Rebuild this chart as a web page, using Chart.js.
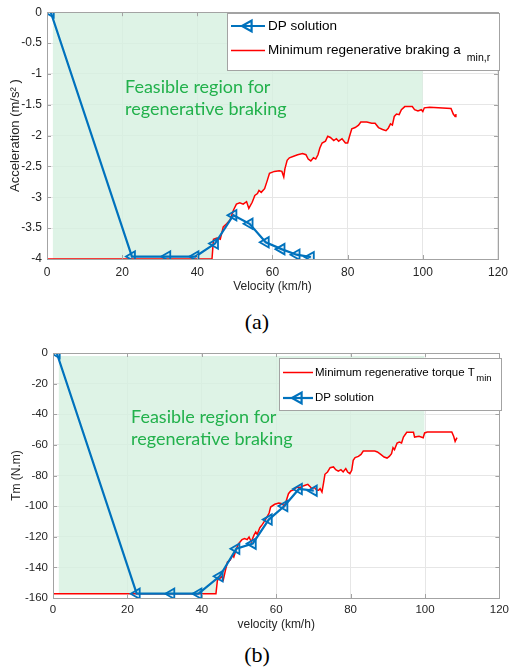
<!DOCTYPE html>
<html>
<head>
<meta charset="utf-8">
<script src="https://cdn.jsdelivr.net/npm/chart.js@4.4.0/dist/chart.umd.min.js"></script>
<style>
  body { margin: 0; background: #fff; width: 514px; height: 670px; position: relative; overflow: hidden; }
  .wrap { position: absolute; left: 0; width: 514px; height: 300px; }
  .cap { position: absolute; left: 0; width: 514px; text-align: center; font: 22px 'Liberation Serif', 'Times New Roman', serif; line-height: 26px; color: #000; }
</style>
</head>
<body>
<div class="wrap" style="top:0"><canvas id="chartA" width="514" height="300"></canvas></div>
<div class="cap" style="top:309px">(a)</div>
<div class="wrap" style="top:335px"><canvas id="chartB" width="514" height="300"></canvas></div>
<div class="cap" style="top:642px">(b)</div>
<script>
// ---- data (a): acceleration ----
const dpVelA = [1, 22.6, 32.0, 39.5, 44.7, 49.6, 53.9, 58.2, 62.4, 66.4, 70.2];
const dpAccA = [0, -3.96, -3.96, -3.96, -3.75, -3.29, -3.43, -3.73, -3.84, -3.93, -3.97];

const minVelA = [0, 43.9, 44.3, 45.2, 46.1, 46.9, 47.8, 48.7, 49.6, 50.4, 51.3, 52.2, 53.1, 53.7, 54.6, 55.3, 56.0, 56.4, 57.0, 57.9,
  58.6, 59.2, 60.5, 61.8, 62.5, 63.0, 63.3, 63.9, 64.5, 65.8, 66.7, 68.0, 68.9, 69.5, 70.2, 70.9, 71.5, 72.1, 72.6, 73.2,
  74.1, 74.7, 75.4, 76.3, 77.0, 77.6, 78.5, 79.4, 80.0, 80.5, 81.1, 82.0, 82.9, 83.5, 85.1, 86.4, 87.3, 88.2, 89.3, 90.2,
  90.8, 91.4, 91.9, 92.4, 93.0, 93.7, 94.3, 95.2, 97.2, 97.8, 98.7, 99.6, 100.0, 100.4, 101.8, 107.5, 108.1, 108.6, 108.8];
const minAccA = [-4, -4, -3.68, -3.66, -3.68, -3.48, -3.43, -3.37, -3.21, -3.11, -3.09, -3.11, -3.07, -3.18, -3.08, -2.97, -2.94, -2.89, -2.92, -2.86,
  -2.73, -2.61, -2.58, -2.57, -2.58, -2.67, -2.54, -2.40, -2.36, -2.33, -2.31, -2.29, -2.31, -2.38, -2.41, -2.36, -2.38, -2.31, -2.20, -2.12,
  -2.09, -2.01, -2.03, -2.08, -2.05, -2.09, -2.05, -2.12, -2.12, -2.01, -1.89, -1.87, -1.83, -1.78, -1.78, -1.80, -1.80, -1.87, -1.90, -1.92,
  -1.88, -1.81, -1.83, -1.69, -1.65, -1.66, -1.58, -1.53, -1.53, -1.58, -1.60, -1.58, -1.61, -1.55, -1.54, -1.56, -1.65, -1.69, -1.65];

// ---- data (b): torque ----
const dpVelB = [1, 22.5, 31.8, 39.1, 44.8, 49.3, 53.7, 58.0, 62.2, 66.1, 70.1];
const dpTqB = [0, -157.2, -157.2, -157.2, -145.8, -127.8, -124.5, -108.8, -99.9, -88.8, -89.9];

const minVelB = [0, 43.8, 44.2, 44.8, 45.4, 45.8, 46.3, 46.9, 47.6, 48.3, 48.6, 49.3, 49.9, 50.8, 51.5, 52.2, 52.7, 53.3, 54.0, 54.5,
  54.9, 55.6, 56.3, 56.9, 57.5, 58.1, 58.5, 59.6, 60.7, 61.6, 62.2, 62.6, 63.3, 63.9, 64.8, 65.6, 66.3, 67.0, 67.8, 68.5,
  69.2, 69.6, 70.3, 70.9, 71.4, 71.8, 72.3, 72.7, 73.1, 73.8, 74.5, 75.4, 76.0, 76.7, 77.4, 78.0, 78.7, 79.2, 79.8, 80.3,
  80.7, 81.2, 82.1, 82.8, 83.4, 84.7, 86.5, 87.2, 88.1, 89.0, 89.8, 90.4, 91.0, 91.4, 91.8, 92.5, 93.1, 93.7, 94.2, 95.1,
  96.9, 97.2, 98.4, 99.5, 99.9, 100.6, 107.2, 107.7, 108.1, 108.6];
const minTqB = [-157.2, -157.2, -148.4, -147.4, -145.8, -148.0, -142.4, -136.5, -135.4, -132.1, -133.2, -127.8, -124.5, -121.9, -121.2, -121.9, -120.2, -123.4, -119.1, -116.9,
  -118.4, -114.1, -111.9, -109.7, -107.1, -104.5, -100.6, -98.8, -98.0, -98.4, -100.1, -97.3, -91.9, -90.1, -89.2, -87.5, -87.9, -87.1, -86.4, -85.8,
  -87.5, -88.6, -87.9, -89.7, -89.7, -88.6, -90.8, -85.3, -79.2, -77.7, -74.9, -74.4, -76.2, -77.1, -76.2, -77.7, -75.5, -77.7, -78.8, -76.6,
  -70.1, -68.3, -67.5, -66.2, -64.0, -64.0, -64.0, -64.6, -66.2, -67.9, -68.6, -67.5, -65.7, -61.8, -63.1, -58.8, -58.1, -58.8, -54.9, -51.8,
  -51.8, -54.9, -54.4, -55.3, -52.2, -51.6, -51.6, -54.4, -57.7, -55.3];

// feasible region edges
const regionStartVel = 1.5;
const regionEndVel = 100;

// tick labels
const velTicks = [0, 20, 40, 60, 80, 100, 120];
const accTicks = [0, -0.5, -1, -1.5, -2, -2.5, -3, -3.5, -4];
const tqTicks = [0, -20, -40, -60, -80, -100, -120, -140, -160];

const blue = '#0072bd';
const red = '#ff0000';
const frameColor = '#a3a3a3';

function zip(xs, ys) {
  return xs.map((x, i) => ({ x: x, y: ys[i] }));
}

function regionPoints(xs, ys) {
  const pts = [{ x: regionStartVel, y: ys[0] }];
  xs.forEach((x, i) => {
    if (x >= regionStartVel && x <= regionEndVel) pts.push({ x: x, y: ys[i] });
  });
  return pts;
}

function leftTriangle(ctx, x, y, r) {
  ctx.beginPath();
  ctx.moveTo(x - r, y);
  ctx.lineTo(x + r * 0.6, y - r * 0.9);
  ctx.lineTo(x + r * 0.6, y + r * 0.9);
  ctx.closePath();
  ctx.stroke();
}

// box around plot with inward ticks (matlab style)
const framePlugin = {
  id: 'frame',
  afterDatasetsDraw(chart) {
    const { ctx, chartArea: a, scales } = chart;
    ctx.save();
    ctx.strokeStyle = frameColor;
    ctx.lineWidth = 1;
    ctx.strokeRect(Math.round(a.left) + 0.5, Math.round(a.top) + 0.5, Math.round(a.right - a.left), Math.round(a.bottom - a.top));
    ctx.beginPath();
    scales.x.ticks.forEach(t => {
      const px = Math.round(scales.x.getPixelForValue(t.value)) + 0.5;
      ctx.moveTo(px, a.bottom); ctx.lineTo(px, a.bottom - 4);
      ctx.moveTo(px, a.top); ctx.lineTo(px, a.top + 4);
    });
    scales.y.ticks.forEach(t => {
      const py = Math.round(scales.y.getPixelForValue(t.value)) + 0.5;
      ctx.moveTo(a.left, py); ctx.lineTo(a.left + 4, py);
      ctx.moveTo(a.right, py); ctx.lineTo(a.right - 4, py);
    });
    ctx.stroke();
    ctx.restore();
  }
};

const notePlugin = {
  id: 'note',
  afterDatasetsDraw(chart, args, opts) {
    const ctx = chart.ctx;
    ctx.save();
    ctx.fillStyle = '#22b14c';
    ctx.font = opts.font;
    ctx.textBaseline = 'middle';
    opts.lines.forEach((t, i) => ctx.fillText(t, opts.x, opts.y + i * opts.gap));
    ctx.restore();
  }
};

const boxLegendPlugin = {
  id: 'boxLegend',
  afterDraw(chart, args, opts) {
    const ctx = chart.ctx;
    ctx.save();
    ctx.fillStyle = '#fff';
    ctx.fillRect(opts.x, opts.y, opts.w, opts.h);
    ctx.strokeStyle = frameColor;
    ctx.lineWidth = 1;
    ctx.strokeRect(opts.x + 0.5, opts.y + 0.5, opts.w, opts.h);
    opts.items.forEach(it => {
      const x0 = opts.x + opts.lineFrom, x1 = opts.x + opts.lineTo;
      ctx.strokeStyle = it.color;
      ctx.lineWidth = it.width;
      ctx.beginPath();
      ctx.moveTo(x0, it.y);
      ctx.lineTo(x1, it.y);
      ctx.stroke();
      if (it.marker) leftTriangle(ctx, (x0 + x1) / 2, it.y, 6);
      ctx.fillStyle = '#000';
      ctx.font = opts.font;
      ctx.textBaseline = 'middle';
      const tx = opts.x + opts.textX;
      ctx.fillText(it.text, tx, it.y);
      if (it.sub) {
        const w = ctx.measureText(it.text).width;
        ctx.font = opts.subFont;
        ctx.fillText(it.sub, tx + w + opts.subGap, it.y + opts.subDy);
      }
    });
    ctx.restore();
  }
};

function makeScales(cfg) {
  const tickFont = { family: "'Liberation Sans', Arial, sans-serif", size: cfg.tickSize };
  return {
    x: {
      type: 'linear', min: 0, max: 120,
      afterBuildTicks: s => { s.ticks = velTicks.map(v => ({ value: v })); },
      afterFit: s => { s.height = cfg.xHeight; },
      grid: { color: '#e6e6e6', drawTicks: false },
      border: { display: false },
      ticks: { color: '#262626', font: tickFont, padding: cfg.xTickPad },
      title: { display: true, text: cfg.xTitle, color: '#262626',
        font: { family: "'Liberation Sans', Arial, sans-serif", size: 12 }, padding: { bottom: cfg.xTitlePad, top: 0 } }
    },
    y: {
      type: 'linear', min: cfg.yMin, max: 0,
      afterBuildTicks: s => { s.ticks = cfg.yTicks.map(v => ({ value: v })); },
      afterFit: s => { s.width = cfg.yWidth; },
      grid: { color: '#e6e6e6', drawTicks: false },
      border: { display: false },
      ticks: { color: '#262626', font: tickFont, padding: 5, callback: v => String(v) },
      title: { display: true, text: cfg.yTitle, color: '#262626',
        font: { family: "'Liberation Sans', Arial, sans-serif", size: cfg.yTitleSize }, padding: { top: cfg.yTitlePad, bottom: 0 } }
    }
  };
}

function dpDataset(xs, ys) {
  return {
    label: 'DP solution', data: zip(xs, ys), borderColor: blue, borderWidth: 2.2,
    pointStyle: 'triangle', pointRotation: -90, pointRadius: 6, pointBorderWidth: 1.8,
    pointBackgroundColor: 'rgba(0,114,189,0.12)', pointBorderColor: blue, fill: false, order: 0
  };
}

function minDataset(label, xs, ys) {
  return { label: label, data: zip(xs, ys), borderColor: red, borderWidth: 1.5, pointRadius: 0, fill: false, order: 1 };
}

function regionDataset(xs, ys, fillTo) {
  return { label: 'region', data: regionPoints(xs, ys), borderWidth: 0, pointRadius: 0,
    backgroundColor: 'rgba(214,240,224,0.8)', fill: fillTo, order: 2 };
}

new Chart(document.getElementById('chartA'), {
  type: 'line',
  data: {
    datasets: [
      dpDataset(dpVelA, dpAccA),
      minDataset('Minimum regenerative braking a min,r', minVelA, minAccA),
      regionDataset(minVelA, minAccA, 'end')
    ]
  },
  options: {
    responsive: false, animation: false,
    layout: { padding: { left: 0, top: 9, right: 11, bottom: 0 } },
    scales: makeScales({ tickSize: 12, xHeight: 41, xTickPad: 6, xTitle: 'Velocity (km/h)', xTitlePad: 6,
      yMin: -4, yTicks: accTicks, yWidth: 47, yTitle: 'Acceleration (m/s\u00b2 )', yTitleSize: 13, yTitlePad: 8 }),
    plugins: {
      legend: { display: false }, tooltip: { enabled: false },
      note: { x: 125, y: 87, gap: 22.5, font: "18px Lato, 'Open Sans', sans-serif",
        lines: ['Feasible region for', 'regenerative braking'] },
      boxLegend: { x: 227, y: 13, w: 272, h: 57, lineFrom: 4, lineTo: 38, textX: 41, subGap: 6, subDy: 8,
        font: "13.5px 'Liberation Sans', Arial, sans-serif", subFont: "10.5px 'Liberation Sans', Arial, sans-serif",
        items: [
          { text: 'DP solution', color: blue, width: 2.2, marker: true, y: 26 },
          { text: 'Minimum regenerative braking a', sub: 'min,r', color: red, width: 1.5, y: 50.5 }
        ] }
    }
  },
  plugins: [framePlugin, notePlugin, boxLegendPlugin]
});

new Chart(document.getElementById('chartB'), {
  type: 'line',
  data: {
    datasets: [
      dpDataset(dpVelB, dpTqB),
      minDataset('Minimum regenerative torque T min', minVelB, minTqB),
      regionDataset(minVelB, minTqB, { value: -2 })
    ]
  },
  options: {
    responsive: false, animation: false,
    layout: { padding: { left: 0, top: 18, right: 7, bottom: 0 } },
    scales: makeScales({ tickSize: 11.5, xHeight: 37, xTickPad: 5, xTitle: 'velocity (km/h)', xTitlePad: 3,
      yMin: -160, yTicks: tqTicks, yWidth: 53, yTitle: 'Tm (N.m)', yTitleSize: 12, yTitlePad: 9 }),
    plugins: {
      legend: { display: false }, tooltip: { enabled: false },
      note: { x: 131, y: 82, gap: 22.5, font: "18px Lato, 'Open Sans', sans-serif",
        lines: ['Feasible region for', 'regenerative braking'] },
      boxLegend: { x: 279, y: 23, w: 222, h: 52, lineFrom: 4, lineTo: 34, textX: 36, subGap: 1.5, subDy: 6,
        font: "11.5px 'Liberation Sans', Arial, sans-serif", subFont: "9.5px 'Liberation Sans', Arial, sans-serif",
        items: [
          { text: 'Minimum regenerative torque T', sub: 'min', color: red, width: 1.5, y: 37.5 },
          { text: 'DP solution', color: blue, width: 2.2, marker: true, y: 63 }
        ] }
    }
  },
  plugins: [framePlugin, notePlugin, boxLegendPlugin]
});
</script>
</body>
</html>
